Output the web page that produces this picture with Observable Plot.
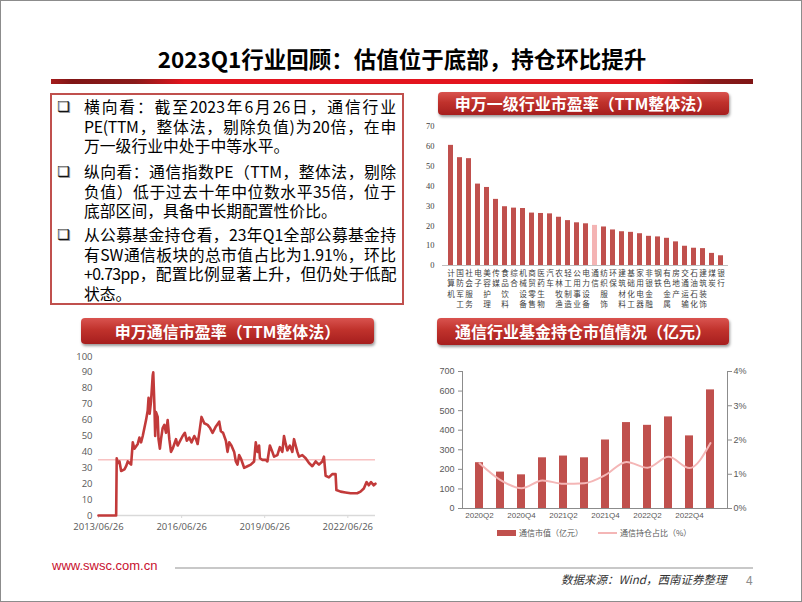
<!DOCTYPE html>
<html><head><meta charset="utf-8">
<script src="https://cdn.jsdelivr.net/npm/d3@7"></script>
<script src="https://cdn.jsdelivr.net/npm/@observablehq/plot@0.6"></script>
<style>
html,body{margin:0;padding:0;background:#fff;}
#slide{position:relative;width:802px;height:602px;box-sizing:border-box;border:1px solid #8c8c8c;overflow:hidden;font-family:"Noto Sans CJK SC","Noto Sans",sans-serif;background:#fff;}
.abs{position:absolute;}
#title{left:0;width:802px;top:40px;text-align:center;font-size:22.5px;font-weight:bold;color:#000;line-height:34px;white-space:nowrap;}
#redbar{left:50px;top:78px;width:702px;height:5px;background:linear-gradient(to right,#a51c1c 0%,#7f1515 3%,#8a1a1a 12%,#e3141e 19%,#e3141e 86%,#8a1a1a 94%,#7f1515 100%);}
#textbox{left:49px;top:92px;width:354px;height:212px;box-sizing:border-box;border:2px solid #c0504d;}
.ln{position:absolute;left:83px;font-size:15.8px;line-height:19.5px;height:19.5px;color:#000;white-space:nowrap;}
.ln.j{width:312px;text-align:justify;text-align-last:justify;text-justify:inter-character;}
.bullet{position:absolute;left:56px;font-family:"DejaVu Sans";font-size:14px;font-weight:bold;line-height:19.5px;color:#111;text-shadow:1px 1px 0 #999;}
.hdr{position:absolute;border-radius:4px;color:#fff;font-weight:bold;font-size:16px;text-align:center;white-space:nowrap;
 background:linear-gradient(to bottom,#d9534f 0%,#c0322c 45%,#a61e1e 100%);box-shadow:1px 2px 3px rgba(0,0,0,0.4);}
.legtxt{position:absolute;font-size:8px;color:#595959;line-height:12px;white-space:nowrap;}
</style></head>
<body>
<div id="slide">
  <div id="title" class="abs">2023Q1行业回顾：估值位于底部，持仓环比提升</div>
  <div id="redbar" class="abs"></div>
  <div id="textbox" class="abs"></div>
  <div class="bullet" style="top:96px">❑</div>
  <div class="ln j" style="top:96px">横向看：截至2023年6月26日，通信行业</div>
  <div class="ln j" style="top:115.5px;letter-spacing:-0.3px">PE(TTM，整体法，剔除负值)为20倍，在申</div>
  <div class="ln" style="top:135px">万一级行业中处于中等水平。</div>
  <div class="bullet" style="top:161px">❑</div>
  <div class="ln j" style="top:161px">纵向看：通信指数PE（TTM，整体法，剔除</div>
  <div class="ln j" style="top:180.5px">负值）低于过去十年中位数水平35倍，位于</div>
  <div class="ln" style="top:200px">底部区间，具备中长期配置性价比。</div>
  <div class="bullet" style="top:224px">❑</div>
  <div class="ln j" style="top:224px">从公募基金持仓看，23年Q1全部公募基金持</div>
  <div class="ln j" style="top:243.5px">有SW通信板块的总市值占比为1.91%，环比</div>
  <div class="ln j" style="top:263px;letter-spacing:-0.6px">+0.73pp，配置比例显著上升，但仍处于低配</div>
  <div class="ln" style="top:282.5px">状态。</div>

  <div class="hdr" style="left:437px;top:91px;width:291px;height:23px;line-height:23px;">申万一级行业市盈率（TTM整体法）</div>
  <div class="hdr" style="left:80px;top:317px;width:293px;height:26px;line-height:26px;">申万通信市盈率（TTM整体法）</div>
  <div class="hdr" style="left:436px;top:317px;width:292px;height:27px;line-height:27px;">通信行业基金持仓市值情况（亿元）</div>

  <div id="c1" class="abs" style="left:410px;top:118px;"></div>
  <div id="c2" class="abs" style="left:60px;top:345px;"></div>
  <div id="c3" class="abs" style="left:420px;top:355px;"></div>

  <div class="abs" style="left:496px;top:529px;width:19px;height:6px;background:#c0504d;"></div>
  <div class="legtxt" style="left:518px;top:526px;">通信市值（亿元）</div>
  <div class="abs" style="left:597px;top:531px;width:19px;height:2px;background:#f4b6b6;"></div>
  <div class="legtxt" style="left:619px;top:526px;">通信持仓占比（%）</div>

  <div class="abs" style="left:51px;top:557px;font-family:'Liberation Sans',Arial;font-size:13px;color:#c8102e;">www.swsc.com.cn</div>
  <div class="abs" style="left:174px;top:566px;width:578px;height:1.5px;background:#c8c8c8;"></div>
  <div class="abs" style="left:560px;width:158px;top:570px;text-align:right;font-size:11.5px;font-style:italic;color:#333;white-space:nowrap;">数据来源：Wind，西南证券整理</div>
  <div class="abs" style="left:745px;top:570px;font-size:12px;color:#8c8c8c;">4</div>
</div>
<script>
// ---- Chart 1: 申万一级行业市盈率 ----
const industries = ["计算机","国防军工","社会服务","电子","美容护理","传媒","食品饮料","综合","机械设备","商贸零售","医药生物","汽车","农林牧渔","轻工制造","公用事业","电力设备","通信","纺织服饰","环保","建筑材料","基础化工","家用电器","非银金融","钢铁","有色金属","房地产","交通运输","石油石化","建筑装饰","煤炭","银行"];
const industryPE = [60.5,54.3,53.8,41.0,39.3,33.3,29.6,28.9,28.7,26.4,26.2,26.0,24.3,22.6,21.5,21.0,20.2,19.4,17.9,17.0,16.7,16.0,14.7,14.4,13.7,11.9,9.7,8.7,8.5,6.1,4.9];
const highlightIndustry = "通信";
const industryTicks = [0,10,20,30,40,50,60,70];

// ---- Chart 2: 申万通信市盈率 ----
const commYears = [2013.48,2014.12,2014.14,2014.18,2014.24,2014.30,2014.42,2014.48,2014.54,2014.60,2014.66,2014.72,2014.78,2014.90,2014.96,2015.02,2015.08,2015.14,2015.20,2015.26,2015.29,2015.33,2015.38,2015.44,2015.46,2015.50,2015.53,2015.56,2015.62,2015.65,2015.70,2015.74,2015.80,2015.86,2015.92,2015.98,2016.04,2016.10,2016.16,2016.22,2016.28,2016.34,2016.40,2016.52,2016.60,2016.67,2016.76,2016.84,2016.94,2017.00,2017.06,2017.12,2017.20,2017.30,2017.42,2017.51,2017.60,2017.72,2017.84,2017.90,2017.98,2018.08,2018.14,2018.20,2018.28,2018.38,2018.44,2018.50,2018.56,2018.62,2018.68,2018.74,2018.86,2018.98,2019.10,2019.16,2019.22,2019.28,2019.31,2019.40,2019.52,2019.58,2019.67,2019.76,2019.82,2019.94,2020.03,2020.12,2020.18,2020.24,2020.30,2020.39,2020.48,2020.54,2020.60,2020.66,2020.72,2020.84,2020.96,2021.08,2021.20,2021.32,2021.44,2021.56,2021.62,2021.68,2021.80,2021.92,2022.04,2022.07,2022.22,2022.40,2022.58,2022.82,2022.94,2023.06,2023.16,2023.24,2023.32,2023.42,2023.48];
const commPE = [0,0,36,33,34,28,29,31,34,33,32,46,42,45,49,46,50,55,60,66,74,64,72,88,90,70,50,65,62,48,42,48,55,57,52,60,48,40,42,45,48,44,46,50,52,47,49,46,50,48,45,52,62,58,57,55,52,56,59,53,52,47,40,46,44,40,34,32,38,36,33,30,31,32,34,46,40,44,36,35,35,34,44,40,37,38,43,40,50,45,41,44,40,48,44,40,37,38,36,33,31,34,32,34,37,25,24,26,26,16,15,14.5,14,14,15,17,21,19,21,19,20];
const commMedian = 35;
const commTickDates = ["2013-06-26","2016-06-26","2019-06-26","2022-06-26"];
const commDomain = ["2013-06-26","2023-06-26"];

// ---- Chart 3: 通信行业基金持仓市值 ----
const quarters = ["2020Q2","2020Q3","2020Q4","2021Q1","2021Q2","2021Q3","2021Q4","2022Q1","2022Q2","2022Q3","2022Q4","2023Q1"];
const fundValue = [234,186,172,259,268,259,350,439,425,468,371,606];
const fundShare = [1.32,0.83,0.59,0.82,0.72,0.74,0.98,1.36,1.19,1.51,1.18,1.91];
const valueTicks = [0,100,200,300,400,500,600,700];
const shareTicks = [0,1,2,3,4];

const red = "#c0504d";

function decToDate(y){
  const yr = Math.floor(y);
  const s = Date.UTC(yr,0,1), e = Date.UTC(yr+1,0,1);
  return new Date(s + (y-yr)*(e-s));
}

// Chart 1
const indData = industries.map((n,i)=>({n, v: industryPE[i]}));
const c1 = Plot.plot({
  width:325, height:185, marginTop:7, marginBottom:39, marginLeft:31, marginRight:8,
  style:{fontFamily:"'Liberation Serif',serif", fontSize:"8.5px", color:"#404040", background:"transparent", overflow:"visible"},
  x:{domain:industries, paddingInner:0.5, paddingOuter:0.3, label:null},
  y:{domain:[0,70], label:null},
  color:{type:"identity"},
  marks:[
    Plot.ruleY([0],{stroke:"#bfbfbf"}),
    Plot.barY(indData,{x:"n", y:"v", fill:d=>d.n===highlightIndustry?"#f4b4b4":red}),
    Plot.axisY({ticks:industryTicks, tickSize:0, tickPadding:8, label:null}),
    Plot.axisX({tickSize:0, tickPadding:3, label:null, tickFormat:d=>d.split("").join("\n"), fontFamily:"'Noto Sans CJK SC'", fontSize:7.6, lineHeight:1.38})
  ]
});
document.getElementById("c1").append(c1);

// Chart 2
const commData = commYears.map((y,i)=>({date:decToDate(y), pe:commPE[i]}));
const c2 = Plot.plot({
  width:330, height:195, marginTop:10, marginBottom:26, marginLeft:37, marginRight:16,
  style:{fontFamily:"'Open Sans',sans-serif", fontSize:"9.5px", color:"#595959", background:"transparent", overflow:"visible"},
  x:{type:"utc", domain:commDomain.map(d=>new Date(d)), label:null},
  y:{domain:[0,100], label:null},
  marks:[
    Plot.ruleY([0],{stroke:"#d9d9d9", strokeWidth:1.5}),
    Plot.axisY({ticks:d3.range(0,101,10), tickSize:0, tickPadding:6, label:null}),
    Plot.axisX({ticks:commTickDates.map(d=>new Date(d)), tickFormat:d3.utcFormat("%Y/%m/%d"), tickSize:3, tickPadding:5, stroke:"#d9d9d9", label:null}),
    Plot.ruleY([commMedian],{stroke:"#f4a3a3", strokeWidth:1}),
    Plot.line(commData,{x:"date", y:"pe", stroke:"#c23a3a", strokeWidth:2.6, strokeLinejoin:"round"})
  ]
});
document.getElementById("c2").append(c2);

// Chart 3
const fundData = quarters.map((q,i)=>({q, v:fundValue[i], s:fundShare[i]}));
const ratio = 700/4;
const c3 = Plot.plot({
  width:330, height:170, marginTop:15, marginBottom:18, marginLeft:41, marginRight:24,
  style:{fontFamily:"'Liberation Sans',sans-serif", fontSize:"9px", color:"#595959", background:"transparent", overflow:"visible"},
  x:{domain:quarters, paddingInner:0.635, paddingOuter:0.37, label:null},
  y:{domain:[0,700], label:null},
  marks:[
    Plot.barY(fundData,{x:"q", y:"v", fill:red}),
    Plot.line(fundData,{x:"q", y:d=>d.s*ratio, stroke:"#f4b6b6", strokeWidth:2, curve:"monotone-x"}),
    Plot.ruleY([0],{stroke:"#8c8c8c"}),
    Plot.frame({anchor:"left", stroke:"#8c8c8c"}),
    Plot.frame({anchor:"right", stroke:"#8c8c8c"}),
    Plot.axisY({anchor:"left", ticks:valueTicks, tickSize:4, tickPadding:4, stroke:"#8c8c8c", label:null}),
    Plot.axisY({anchor:"right", ticks:shareTicks.map(s=>s*ratio), tickFormat:d=>`${Math.round(d/ratio)}%`, tickSize:4, tickPadding:2, stroke:"#8c8c8c", label:null}),
    Plot.axisX({ticks:quarters.filter((d,i)=>i%2===0), tickSize:0, tickPadding:4, fontSize:8, label:null})
  ]
});
document.getElementById("c3").append(c3);
</script>
</body></html>
